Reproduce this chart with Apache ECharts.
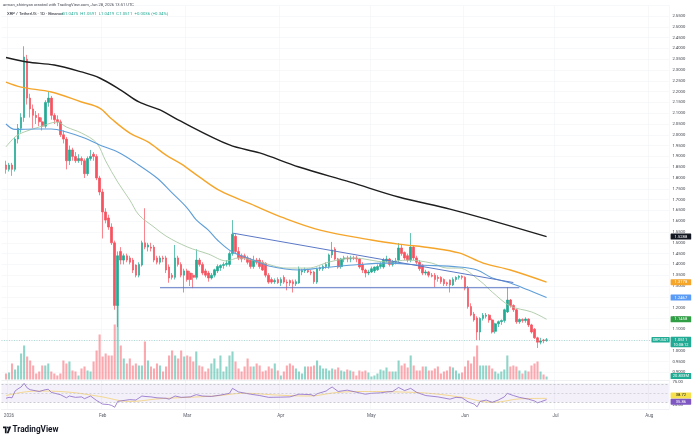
<!DOCTYPE html>
<html><head><meta charset="utf-8">
<script src="https://cdn.jsdelivr.net/npm/echarts@6/dist/echarts.min.js"></script>
<style>html,body{margin:0;padding:0;background:#fff}#c{width:696px;height:440px}</style>
</head><body><div id="c"></div>
<script>
// ---------- data ----------
const axisStart = '2025-12-30';
const axisDays = 221;            // through 2026-08-07
const candleStart = '2025-12-31';
const monthNames = ['Jan','Feb','Mar','Apr','May','Jun','Jul','Aug','Sep','Oct','Nov','Dec'];

// daily [open, high, low, close], 2025-12-31 .. 2026-06-28
const ohlc = [
[1.86,1.88,1.82,1.84],[1.84,1.87,1.83,1.86],[1.86,1.87,1.81,1.84],[1.84,1.99,1.83,1.98],[1.98,2.05,1.96,2.03],[2.03,2.10,2.01,2.08],[2.08,2.41,2.06,2.36],[2.35,2.37,2.14,2.17],[2.17,2.19,2.08,2.12],[2.12,2.14,2.03,2.09],
[2.09,2.11,2.05,2.08],[2.08,2.10,2.04,2.06],[2.06,2.08,2.02,2.04],[2.04,2.16,2.03,2.15],[2.15,2.20,2.13,2.17],[2.17,2.18,2.07,2.09],[2.09,2.10,2.05,2.07],[2.07,2.09,2.04,2.06],[2.06,2.07,1.99,2.00],[2.00,2.02,1.96,1.98],
[1.98,1.99,1.84,1.88],[1.88,1.95,1.86,1.93],[1.93,1.94,1.88,1.90],[1.90,1.92,1.87,1.88],[1.88,1.91,1.87,1.89],[1.89,1.90,1.86,1.88],[1.88,1.89,1.80,1.82],[1.82,1.90,1.81,1.89],[1.89,1.93,1.88,1.90],[1.91,1.92,1.88,1.90],
[1.90,1.91,1.79,1.80],[1.80,1.81,1.72,1.735],[1.735,1.75,1.52,1.643],[1.643,1.66,1.59,1.605],[1.615,1.63,1.56,1.573],[1.573,1.59,1.49,1.50],[1.50,1.51,1.19,1.21],[1.21,1.46,1.11,1.44],[1.46,1.48,1.40,1.42],[1.42,1.45,1.40,1.44],
[1.44,1.45,1.41,1.42],[1.43,1.44,1.40,1.41],[1.42,1.43,1.36,1.374],[1.397,1.40,1.34,1.35],[1.35,1.41,1.34,1.40],[1.397,1.51,1.39,1.50],[1.50,1.66,1.47,1.48],[1.48,1.50,1.46,1.49],[1.48,1.50,1.46,1.475],[1.48,1.49,1.41,1.42],
[1.43,1.44,1.40,1.41],[1.41,1.44,1.40,1.43],[1.43,1.44,1.41,1.425],[1.43,1.44,1.36,1.374],[1.388,1.40,1.315,1.337],[1.35,1.36,1.33,1.34],[1.34,1.49,1.33,1.43],[1.43,1.44,1.39,1.40],[1.40,1.41,1.34,1.35],[1.35,1.38,1.27,1.37],
[1.37,1.38,1.32,1.33],[1.36,1.37,1.30,1.33],[1.35,1.36,1.29,1.34],[1.34,1.47,1.33,1.42],[1.42,1.43,1.39,1.40],[1.40,1.41,1.35,1.36],[1.37,1.38,1.34,1.35],[1.36,1.37,1.32,1.337],[1.337,1.36,1.33,1.35],[1.35,1.38,1.34,1.375],
[1.37,1.40,1.36,1.39],[1.385,1.40,1.37,1.395],[1.395,1.41,1.38,1.40],[1.40,1.42,1.39,1.405],[1.40,1.46,1.39,1.45],[1.45,1.605,1.44,1.54],[1.53,1.54,1.45,1.46],[1.46,1.48,1.42,1.43],[1.44,1.45,1.41,1.425],[1.44,1.45,1.42,1.43],
[1.43,1.44,1.40,1.41],[1.42,1.43,1.38,1.39],[1.39,1.44,1.38,1.42],[1.42,1.43,1.40,1.41],[1.42,1.43,1.38,1.39],[1.41,1.42,1.37,1.374],[1.405,1.41,1.34,1.35],[1.35,1.36,1.31,1.318],[1.33,1.34,1.31,1.318],[1.32,1.335,1.31,1.325],
[1.33,1.34,1.31,1.315],[1.315,1.34,1.30,1.33],[1.34,1.35,1.31,1.318],[1.318,1.33,1.28,1.314],[1.325,1.33,1.30,1.314],[1.32,1.33,1.27,1.31],[1.31,1.33,1.30,1.32],[1.314,1.39,1.31,1.379],[1.365,1.38,1.35,1.372],[1.37,1.385,1.36,1.375],
[1.372,1.38,1.36,1.365],[1.365,1.375,1.35,1.36],[1.365,1.37,1.31,1.32],[1.318,1.385,1.31,1.379],[1.379,1.39,1.37,1.385],[1.38,1.40,1.37,1.39],[1.39,1.41,1.38,1.40],[1.39,1.45,1.38,1.444],[1.444,1.504,1.43,1.467],[1.471,1.48,1.42,1.425],
[1.425,1.43,1.38,1.388],[1.39,1.43,1.38,1.425],[1.425,1.44,1.41,1.43],[1.43,1.44,1.41,1.425],[1.425,1.44,1.41,1.43],[1.43,1.44,1.42,1.428],[1.43,1.44,1.41,1.425],[1.425,1.43,1.38,1.388],[1.40,1.41,1.36,1.374],[1.374,1.38,1.34,1.36],
[1.36,1.375,1.35,1.365],[1.365,1.39,1.36,1.38],[1.37,1.39,1.36,1.388],[1.375,1.40,1.37,1.39],[1.39,1.41,1.38,1.40],[1.388,1.43,1.38,1.42],[1.415,1.44,1.41,1.425],[1.425,1.43,1.39,1.40],[1.40,1.42,1.39,1.41],[1.41,1.43,1.40,1.415],
[1.42,1.499,1.41,1.476],[1.476,1.49,1.44,1.45],[1.455,1.46,1.42,1.43],[1.44,1.45,1.41,1.42],[1.42,1.545,1.41,1.48],[1.48,1.49,1.42,1.43],[1.43,1.44,1.40,1.41],[1.41,1.42,1.37,1.38],[1.397,1.40,1.35,1.36],[1.36,1.375,1.35,1.365],
[1.365,1.37,1.34,1.35],[1.35,1.36,1.34,1.345],[1.35,1.36,1.295,1.33],[1.34,1.35,1.32,1.335],[1.34,1.345,1.31,1.32],[1.33,1.335,1.30,1.31],[1.315,1.32,1.30,1.31],[1.328,1.33,1.27,1.305],[1.305,1.34,1.30,1.33],[1.33,1.345,1.32,1.34],
[1.34,1.35,1.33,1.345],[1.345,1.35,1.33,1.34],[1.34,1.345,1.28,1.29],[1.29,1.30,1.195,1.205],[1.205,1.22,1.16,1.166],[1.17,1.18,1.135,1.143],[1.152,1.16,1.05,1.087],[1.087,1.155,1.05,1.15],[1.15,1.175,1.14,1.165],[1.16,1.175,1.15,1.165],
[1.165,1.17,1.13,1.143],[1.143,1.15,1.08,1.087],[1.09,1.13,1.08,1.125],[1.125,1.14,1.11,1.135],[1.135,1.145,1.12,1.14],[1.14,1.195,1.13,1.19],[1.18,1.295,1.175,1.235],[1.235,1.24,1.20,1.21],[1.21,1.215,1.18,1.19],[1.19,1.195,1.125,1.134],
[1.134,1.15,1.125,1.145],[1.145,1.15,1.13,1.14],[1.14,1.155,1.13,1.147],[1.147,1.15,1.11,1.12],[1.12,1.125,1.08,1.087],[1.10,1.105,1.055,1.06],[1.06,1.065,1.013,1.04],[1.04,1.06,1.03,1.045],[1.05,1.055,1.035,1.047],[1.0475,1.0591,1.0419,1.0511]
];

// daily volume, millions of XRP
const volume = [
42,49,112,70,98,182,238,161,133,98,42,56,98,98,112,56,42,28,42,133,112,126,63,56,28,77,91,63,56,
126,203,315,161,182,168,168,385,525,
238,147,112,147,98,112,98,98,266,133,91,77,112,98,56,91,168,203,168,147,203,161,168,161,126,196,98,91,56,77,
112,147,77,168,56,91,168,196,126,77,56,91,147,91,91,112,98,56,63,91,77,112,63,28,56,98,112,98,77,56,
42,91,91,91,98,133,98,77,77,63,77,
70,84,63,56,70,63,
56,28,63,56,63,49,21,28,42,70,63,84,56,56,56,133,98,112,84,168,98,63,63,91,91,63,63,77,91,42,
56,63,91,84,63,42,49,91,133,112,161,238,98,98,98,98,77,56,42,56,70,168,91,98,91,63,42,63,56,98,
112,126,56,35,20.833
];

// moving averages read at sample dates
const ma20 = [['2025-12-31',1.944],['2026-01-03',1.990],['2026-01-06',2.013],['2026-01-11',2.036],['2026-01-17',2.059],['2026-01-20',2.036],['2026-01-25',2.008],['2026-01-30',1.962],['2026-02-02',1.879],['2026-02-06',1.781],['2026-02-10',1.698],['2026-02-13',1.629],['2026-02-18',1.573],['2026-02-22',1.531],['2026-03-01',1.481],['2026-03-08',1.448],['2026-03-14',1.416],['2026-03-18',1.430],['2026-03-25',1.411],['2026-04-03',1.383],['2026-04-10',1.383],['2026-04-17',1.411],['2026-04-25',1.430],['2026-05-06',1.411],['2026-05-13',1.420],['2026-05-21',1.406],['2026-05-26',1.383],['2026-05-30',1.383],['2026-06-06',1.323],['2026-06-10',1.272],['2026-06-16',1.207],['2026-06-23',1.180],['2026-06-28',1.1458]];
const ma50 = [['2025-12-31',2.050],['2026-01-03',2.025],['2026-01-10',2.027],['2026-01-15',2.027],['2026-01-20',2.013],['2026-01-26',1.985],['2026-01-31',1.953],['2026-02-06',1.920],['2026-02-12',1.869],['2026-02-19',1.800],['2026-02-24',1.731],['2026-03-01',1.661],['2026-03-04',1.606],['2026-03-08',1.559],['2026-03-11',1.513],['2026-03-16',1.457],['2026-03-22',1.425],['2026-03-28',1.393],['2026-04-07',1.374],['2026-04-14',1.383],['2026-04-25',1.397],['2026-05-06',1.406],['2026-05-17',1.397],['2026-05-30',1.388],['2026-06-05',1.374],['2026-06-10',1.337],['2026-06-16',1.314],['2026-06-22',1.281],['2026-06-28',1.2467]];
const ma100 = [['2025-12-31',2.244],['2026-01-05',2.221],['2026-01-15',2.198],['2026-01-25',2.152],['2026-01-31',2.124],['2026-02-04',2.073],['2026-02-10',2.008],['2026-02-16',1.967],['2026-02-22',1.906],['2026-02-27',1.865],['2026-03-05',1.805],['2026-03-12',1.740],['2026-03-22',1.680],['2026-04-02',1.615],['2026-04-14',1.559],['2026-05-01',1.513],['2026-05-10',1.494],['2026-05-21',1.476],['2026-05-30',1.453],['2026-06-07',1.406],['2026-06-16',1.374],['2026-06-28',1.3178]];
const ma200 = [['2025-12-31',2.358],['2026-01-07',2.337],['2026-01-16',2.323],['2026-01-25',2.291],['2026-01-31',2.263],['2026-02-07',2.207],['2026-02-13',2.152],['2026-02-20',2.115],['2026-02-26',2.069],['2026-03-15',1.953],['2026-03-25',1.916],['2026-04-07',1.851],['2026-04-24',1.781],['2026-05-10',1.712],['2026-05-27',1.656],['2026-06-09',1.606],['2026-06-28',1.5288]];

// drawn trend lines
const trendUpper = [['2026-03-16',1.545],['2026-06-17',1.316]];
const trendFloor = [['2026-02-20',1.292],['2026-06-19',1.292]];

// RSI(14) and its MA
const rsi = [['2025-12-31',39],['2026-01-01',41],['2026-01-02',40],['2026-01-03',55],['2026-01-04',60],['2026-01-05',64],['2026-01-06',72],['2026-01-07',62],['2026-01-08',58],['2026-01-11',54],['2026-01-13',58],['2026-01-14',59],['2026-01-15',52],['2026-01-18',47],['2026-01-20',40],['2026-01-21',44],['2026-01-23',41],['2026-01-25',42],['2026-01-26',38],['2026-01-28',44],['2026-01-30',34],['2026-01-31',30],['2026-02-01',26],['2026-02-03',25],['2026-02-04',23],['2026-02-05',19],['2026-02-06',32],['2026-02-07',33],['2026-02-10',36],['2026-02-12',35],['2026-02-14',44],['2026-02-15',43],['2026-02-17',42],['2026-02-19',40],['2026-02-22',39],['2026-02-23',37],['2026-02-25',44],['2026-02-27',41],['2026-03-02',42],['2026-03-04',47],['2026-03-06',44],['2026-03-09',43],['2026-03-12',46],['2026-03-15',50],['2026-03-16',61],['2026-03-18',53],['2026-03-22',48],['2026-03-25',45],['2026-03-28',41],['2026-04-01',41.5],['2026-04-04',42],['2026-04-07',48],['2026-04-11',47],['2026-04-12',44],['2026-04-13',49],['2026-04-16',55],['2026-04-17',60],['2026-04-18',64],['2026-04-20',54],['2026-04-23',57],['2026-04-27',51],['2026-04-29',48],['2026-05-01',50],['2026-05-04',51],['2026-05-06',53],['2026-05-08',54],['2026-05-10',63],['2026-05-12',56],['2026-05-14',61],['2026-05-16',52],['2026-05-19',45],['2026-05-23',42],['2026-05-27',37],['2026-05-29',41],['2026-05-31',40],['2026-06-02',31],['2026-06-04',26],['2026-06-05',20],['2026-06-06',32],['2026-06-08',35],['2026-06-10',30],['2026-06-12',35],['2026-06-14',42],['2026-06-15',50],['2026-06-17',45],['2026-06-19',41],['2026-06-22',37],['2026-06-24',33],['2026-06-25',29],['2026-06-26',31],['2026-06-28',35.86]];
const rsiMa = [['2025-12-31',45],['2026-01-10',55],['2026-01-20',53],['2026-01-31',43],['2026-02-10',32],['2026-02-20',38],['2026-03-01',41],['2026-03-10',44],['2026-03-20',50],['2026-03-31',46],['2026-04-10',44],['2026-04-20',52],['2026-04-30',54],['2026-05-10',53],['2026-05-20',50],['2026-05-31',41],['2026-06-10',30],['2026-06-20',38],['2026-06-28',38.72]];

const lastPrice = 1.0511, lastVolume = 20.833, lastRsi = 35.86, lastRsiMa = 38.72;
const headerLine1 = 'arman_shirinyan created with TradingView.com, Jun 28, 2026 13:51 UTC';
const headerSymbol = 'XRP / TetherUS · 1D · Binance';
const headerOhlc = 'O1.0475  H1.0591  L1.0419  C1.0511  +0.0036 (+0.34%)';

// ---------- build ----------
function addDays(s, n){ const d = new Date(s + 'T00:00:00Z'); d.setUTCDate(d.getUTCDate() + n); return d.toISOString().slice(0, 10); }
const dates = []; for (let i = 0; i < axisDays; i++) dates.push(addDays(axisStart, i));
const candleDates = ohlc.map((_, i) => addDays(candleStart, i));

const UP = '#22ab94', DOWN = '#f7525f';
const candleData = ohlc.map((r, i) => [candleDates[i], r[0], r[3], r[2], r[1]]);
const volData = volume.map((v, i) => ({ value: [candleDates[i], v],
  itemStyle: { color: ohlc[i][3] >= ohlc[i][0] ? 'rgba(34,171,148,0.5)' : 'rgba(247,82,95,0.5)' } }));

const isMonthStart = (idx, val) => val.slice(8) === '01';
const FONT = 'Roboto, "Noto Sans", sans-serif';
const gLeft = 1.47, gWidth = 667.42;

const chart = echarts.init(document.getElementById('c'));
const maLine = (data, color, w, z) => ({ type: 'line', data, xAxisIndex: 0, yAxisIndex: 0, smooth: 0.35,
  showSymbol: false, symbol: 'none', lineStyle: { color, width: w }, z, silent: true });

chart.setOption({
  animation: false,
  textStyle: { fontFamily: FONT },
  grid: [
    { left: gLeft, width: gWidth, top: 5.2, height: 378 },
    { left: gLeft, width: gWidth, top: 299.5, height: 80 },
    { left: gLeft, width: gWidth, top: 379.8, height: 29.25 }
  ],
  xAxis: [0, 1, 2].map(g => ({
    type: 'category', gridIndex: g, data: dates, boundaryGap: true,
    axisLine: { show: g === 2, lineStyle: { color: '#e6e8ee', width: 0.6 } },
    axisTick: { show: false },
    axisLabel: { show: g === 2, interval: isMonthStart, fontSize: 4.6, color: '#5d606b', margin: 4, fontFamily: FONT,
      formatter: v => v === '2026-01-01' ? '2026' : monthNames[+v.slice(5, 7) - 1] },
    splitLine: { show: g !== 1, interval: isMonthStart, lineStyle: { color: '#f2f3f6', width: 0.6 } }
  })),
  yAxis: [
    { gridIndex: 0, position: 'right', min: 0.85, max: 2.6, interval: 0.05,
      axisLine: { show: false }, axisTick: { show: false },
      axisLabel: { fontSize: 4.2, color: '#3a3d46', margin: 3.5, fontFamily: FONT,
        formatter: v => (v < 0.875 || v > 2.575) ? '' : v.toFixed(4) },
      splitLine: { lineStyle: { color: '#f2f3f6', width: 0.6 } } },
    { gridIndex: 1, min: 0, max: 560, show: false },
    { gridIndex: 2, position: 'right', min: 15, max: 80, interval: 5,
      axisLine: { show: false }, axisTick: { show: false }, splitLine: { show: false },
      axisLabel: { fontSize: 4.2, color: '#3a3d46', margin: 3.5, fontFamily: FONT,
        formatter: v => (v === 75 || v === 25) ? v.toFixed(2) : '' } }
  ],
  series: [
    { type: 'bar', data: volData, xAxisIndex: 1, yAxisIndex: 1, barWidth: 2.1, z: 1, silent: true },
    { type: 'candlestick', data: candleData, encode: { x: 0, y: [1, 2, 3, 4] }, xAxisIndex: 0, yAxisIndex: 0,
      barWidth: 2.1, z: 3, silent: true,
      itemStyle: { color: UP, color0: DOWN, borderColor: UP, borderColor0: DOWN, borderWidth: 0.7 },
      markLine: { silent: true, symbol: ['none', 'none'], label: { show: false },
        lineStyle: { color: '#5fb8a8', type: [1, 1.5], width: 0.6, opacity: 0.8 },
        data: [{ yAxis: lastPrice }] } },
    maLine(ma20, '#a9c8a4', 0.9, 4),
    maLine(ma50, '#5f9ed8', 1.1, 4),
    maLine(ma100, '#f5a52a', 1.4, 4),
    maLine(ma200, '#1e1e1e', 1.4, 4),
    { type: 'line', data: trendUpper, xAxisIndex: 0, yAxisIndex: 0, showSymbol: false, symbol: 'none',
      lineStyle: { color: '#5b78c6', width: 1 }, z: 5, silent: true },
    { type: 'line', data: trendFloor, xAxisIndex: 0, yAxisIndex: 0, showSymbol: false, symbol: 'none',
      lineStyle: { color: '#5b78c6', width: 1 }, z: 5, silent: true },
    { type: 'line', data: rsiMa, xAxisIndex: 2, yAxisIndex: 2, smooth: 0.4, showSymbol: false, symbol: 'none',
      lineStyle: { color: '#f3c64a', width: 0.6 }, z: 3, silent: true },
    { type: 'line', data: rsi, xAxisIndex: 2, yAxisIndex: 2, showSymbol: false, symbol: 'none',
      lineStyle: { color: '#7e57c2', width: 0.7 }, z: 4, silent: true,
      markArea: { silent: true, itemStyle: { color: 'rgba(126,87,194,0.09)' }, data: [[{ yAxis: 70 }, { yAxis: 30 }]] },
      markLine: { silent: true, symbol: ['none', 'none'], label: { show: false },
        data: [
          { yAxis: 70, lineStyle: { color: '#9598a1', type: [2, 2], width: 0.5 } },
          { yAxis: 50, lineStyle: { color: '#b2b5be', type: [2, 2], width: 0.5 } },
          { yAxis: 30, lineStyle: { color: '#9598a1', type: [2, 2], width: 0.5 } },
          { yAxis: 79.6, lineStyle: { color: '#e3e5ea', type: 'solid', width: 0.6 } }
        ] } }
  ]
});

// ---------- price-scale tags, header, logo ----------
const py = v => chart.convertToPixel({ yAxisIndex: 0 }, v);
const vy = v => chart.convertToPixel({ yAxisIndex: 1 }, v);
const ry = v => chart.convertToPixel({ yAxisIndex: 2 }, v);
const TX = 670.6, TW = 20.6;
function tag(y, text, bg, fg, h){
  h = h || 6;
  return [
    { type: 'rect', z: 100, shape: { x: TX, y: y - h / 2, width: TW, height: h, r: 0.6 }, style: { fill: bg } },
    { type: 'text', z: 101, style: { x: TX + TW / 2, y: y, text, fill: fg, fontSize: 4.1, fontFamily: FONT,
      align: 'center', verticalAlign: 'middle', textAlign: 'center', textVerticalAlign: 'middle' } }
  ];
}
const lp = py(lastPrice);
const els = [].concat(
  tag(py(1.5288), '1.5288', '#131722', '#fff'),
  tag(py(1.3178), '1.3178', '#f5a52a', '#fff'),
  tag(py(1.2467), '1.2467', '#5b9cf6', '#fff'),
  tag(py(1.1458), '1.1458', '#2f9e44', '#fff'),
  [
    { type: 'rect', z: 100, shape: { x: TX, y: lp - 3, width: TW, height: 10.4, r: 0.6 }, style: { fill: UP } },
    { type: 'text', z: 101, style: { x: TX + TW / 2, y: lp, text: lastPrice.toFixed(4), fill: '#fff', fontSize: 4.1, fontFamily: FONT,
      align: 'center', verticalAlign: 'middle', textAlign: 'center', textVerticalAlign: 'middle' } },
    { type: 'text', z: 101, style: { x: TX + TW / 2, y: lp + 4.8, text: '10:08:12', fill: '#fff', fontSize: 3.9, fontFamily: FONT,
      align: 'center', verticalAlign: 'middle', textAlign: 'center', textVerticalAlign: 'middle' } },
    { type: 'rect', z: 100, shape: { x: 651.5, y: lp - 2.8, width: 18.2, height: 5.6, r: 0.6 }, style: { fill: UP } },
    { type: 'text', z: 101, style: { x: 660.6, y: lp, text: 'XRPUSDT', fill: '#fff', fontSize: 3.6, fontFamily: FONT,
      align: 'center', verticalAlign: 'middle', textAlign: 'center', textVerticalAlign: 'middle' } }
  ],
  tag(vy(lastVolume) - 0.5, '20.833M', UP, '#fff'),
  tag(ry(lastRsiMa) - 3, lastRsiMa.toFixed(2), '#f6e04b', '#131722'),
  tag(ry(lastRsi) + 2, lastRsi.toFixed(2), '#7e57c2', '#fff'),
  [
    { type: 'text', z: 101, style: { x: 3, y: 5, text: headerLine1, fill: '#4a4d57', fontSize: 4.1, fontFamily: FONT,
      verticalAlign: 'middle', textVerticalAlign: 'middle' } },
    { type: 'text', z: 101, style: { x: 7, y: 14, text: headerSymbol, fill: '#131722', fontSize: 4.3, fontFamily: FONT,
      verticalAlign: 'middle', textVerticalAlign: 'middle' } },
    { type: 'text', z: 101, style: { x: 62, y: 14, text: headerOhlc, fill: UP, fontSize: 4.3, fontFamily: FONT,
      verticalAlign: 'middle', textVerticalAlign: 'middle' } },
    { type: 'polygon', z: 101, shape: { points: [[3, 426.6], [6.6, 426.6], [6.6, 433.2], [4.9, 433.2], [4.9, 428.3], [3, 428.3]] }, style: { fill: '#131722' } },
    { type: 'circle', z: 101, shape: { cx: 7.9, cy: 427.5, r: 0.9 }, style: { fill: '#131722' } },
    { type: 'polygon', z: 101, shape: { points: [[9.1, 426.6], [11.2, 426.6], [8.6, 433.2], [6.7, 433.2]] }, style: { fill: '#131722' } },
    { type: 'text', z: 101, style: { x: 12.5, y: 430, text: 'TradingView', fill: '#131722', fontSize: 8.2, fontWeight: 'bold', fontFamily: FONT,
      verticalAlign: 'middle', textVerticalAlign: 'middle' } }
  ]
);
chart.setOption({ graphic: els });
</script>
</body></html>
